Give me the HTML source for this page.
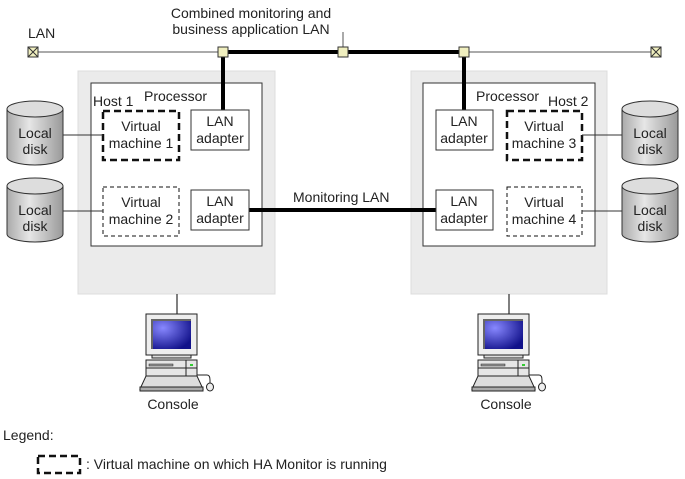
<!DOCTYPE html>
<html><head><style>body{margin:0;background:#fff}svg{display:block}text{font-family:"Liberation Sans",sans-serif;font-size:14px;fill:#222}</style></head>
<body>
<svg width="685" height="479" viewBox="0 0 685 479" xmlns="http://www.w3.org/2000/svg">
<defs>
<linearGradient id="cyl" x1="0" x2="1" y1="0" y2="0"><stop offset="0" stop-color="#aaa"/><stop offset="0.4" stop-color="#e6e6e6"/><stop offset="1" stop-color="#999"/></linearGradient>
<radialGradient id="scr" cx="0.3" cy="0.3" r="0.8"><stop offset="0" stop-color="#8888ff"/><stop offset="1" stop-color="#11118a"/></radialGradient>
<g id="disk">
<path d="M0 8 L0 56 A28 8 0 0 0 56 56 L56 8" fill="url(#cyl)" stroke="#333"/>
<ellipse cx="28" cy="8" rx="28" ry="8" fill="#ddd" stroke="#333"/>
<text x="28" y="37" text-anchor="middle">Local</text><text x="28" y="53" text-anchor="middle">disk</text>
</g>
<g id="console">
<rect x="0" y="0" width="51" height="41" fill="#eee" stroke="#222"/>
<rect x="5" y="5" width="40" height="30" fill="url(#scr)"/>
<path d="M5 5h40v2H7v28H5z" fill="#666"/>
<rect x="6" y="41" width="39" height="3" fill="#ddd" stroke="#222"/>
<rect x="0" y="46" width="51" height="16" fill="#e6e6e6" stroke="#222"/>
<line x1="0" y1="54" x2="51" y2="54" stroke="#222"/>
<line x1="40" y1="46" x2="40" y2="62" stroke="#222"/>
<rect x="3" y="50" width="24" height="2" fill="#999" stroke="#222" stroke-width="0.5"/>
<rect x="44" y="50" width="3" height="2" fill="#3c3"/>
<path d="M-6 75 L0 62 H51 L57 75 Z" fill="#ddd" stroke="#222"/>
<rect x="-6" y="73" width="63" height="4" fill="#aaa" stroke="#222"/>
<path d="M51 61 h10 q3 0 3 5 v4" fill="none" stroke="#222"/>
<ellipse cx="64" cy="73" rx="3.5" ry="4" fill="#eee" stroke="#222"/>
</g>
</defs>
<line x1="33" y1="52" x2="656" y2="52" stroke="#555" stroke-width="1"/>
<line x1="223" y1="52" x2="464" y2="52" stroke="#000" stroke-width="4"/>
<line x1="343" y1="32" x2="343" y2="52" stroke="#555"/>
<text x="28" y="38">LAN</text>
<text x="251" y="18" text-anchor="middle">Combined monitoring and</text>
<text x="251" y="34" text-anchor="middle">business application LAN</text>
<rect x="78" y="71" width="197" height="223" fill="#ebebeb" stroke="#ddd"/>
<rect x="411" y="71" width="196" height="223" fill="#ebebeb" stroke="#ddd"/>
<rect x="91" y="83" width="171" height="163" fill="#fff" stroke="#333"/>
<rect x="423" y="83" width="172" height="163" fill="#fff" stroke="#333"/>
<line x1="223" y1="52" x2="223" y2="110" stroke="#000" stroke-width="4"/>
<line x1="464" y1="52" x2="464" y2="110" stroke="#000" stroke-width="4"/>
<line x1="249" y1="210" x2="436" y2="210" stroke="#000" stroke-width="4"/>
<text x="293" y="202">Monitoring LAN</text>
<text x="93" y="106">Host 1</text><text x="144" y="101">Processor</text>
<text x="476" y="101">Processor</text><text x="548" y="106">Host 2</text>
<g fill="#fff" stroke="#333">
<rect x="191" y="110" width="58" height="40"/><rect x="191" y="190" width="58" height="40"/>
<rect x="436" y="110" width="57" height="40"/><rect x="436" y="190" width="57" height="40"/>
</g>
<g text-anchor="middle">
<text x="220" y="126">LAN</text><text x="220" y="143">adapter</text>
<text x="220" y="206">LAN</text><text x="220" y="223">adapter</text>
<text x="464" y="126">LAN</text><text x="464" y="143">adapter</text>
<text x="464" y="206">LAN</text><text x="464" y="223">adapter</text>
</g>
<rect x="103" y="111" width="76" height="49" fill="#fff" stroke="#111" stroke-width="2.5" stroke-dasharray="7,4"/>
<rect x="103" y="187" width="76" height="49" fill="#fff" stroke="#111" stroke-width="1" stroke-dasharray="4,3"/>
<rect x="507" y="111" width="75" height="49" fill="#fff" stroke="#111" stroke-width="2.5" stroke-dasharray="7,4"/>
<rect x="507" y="187" width="75" height="49" fill="#fff" stroke="#111" stroke-width="1" stroke-dasharray="4,3"/>
<g text-anchor="middle">
<text x="141" y="131">Virtual</text><text x="141" y="148">machine 1</text>
<text x="141" y="207">Virtual</text><text x="141" y="224">machine 2</text>
<text x="544" y="131">Virtual</text><text x="544" y="148">machine 3</text>
<text x="544" y="207">Virtual</text><text x="544" y="224">machine 4</text>
</g>
<g stroke="#333"><line x1="63" y1="135" x2="103" y2="135"/><line x1="63" y1="211" x2="103" y2="211"/>
<line x1="582" y1="135" x2="622" y2="135"/><line x1="582" y1="211" x2="622" y2="211"/></g>
<use href="#disk" x="7" y="101"/><use href="#disk" x="7" y="178"/>
<use href="#disk" x="622" y="101"/><use href="#disk" x="622" y="178"/>
<g fill="#f0efbf" stroke="#333">
<rect x="218" y="47" width="10" height="10"/><rect x="338" y="47" width="10" height="10"/><rect x="459" y="47" width="10" height="10"/>
<rect x="28" y="47" width="10" height="10"/><rect x="651" y="47" width="10" height="10"/>
</g>
<path d="M28 47l10 10M38 47l-10 10M651 47l10 10M661 47l-10 10" stroke="#333"/>
<line x1="177" y1="294" x2="177" y2="314" stroke="#555" stroke-width="1.5"/>
<line x1="509" y1="294" x2="509" y2="314" stroke="#555" stroke-width="1.5"/>
<use href="#console" x="146" y="314"/><use href="#console" x="478" y="314"/>
<text x="173" y="409" text-anchor="middle">Console</text>
<text x="506" y="409" text-anchor="middle">Console</text>
<text x="3" y="440">Legend:</text>
<rect x="38" y="456" width="42" height="17" fill="none" stroke="#111" stroke-width="2.5" stroke-dasharray="7,4"/>
<text x="86" y="469">: Virtual machine on which HA Monitor is running</text>
</svg>
</body></html>
